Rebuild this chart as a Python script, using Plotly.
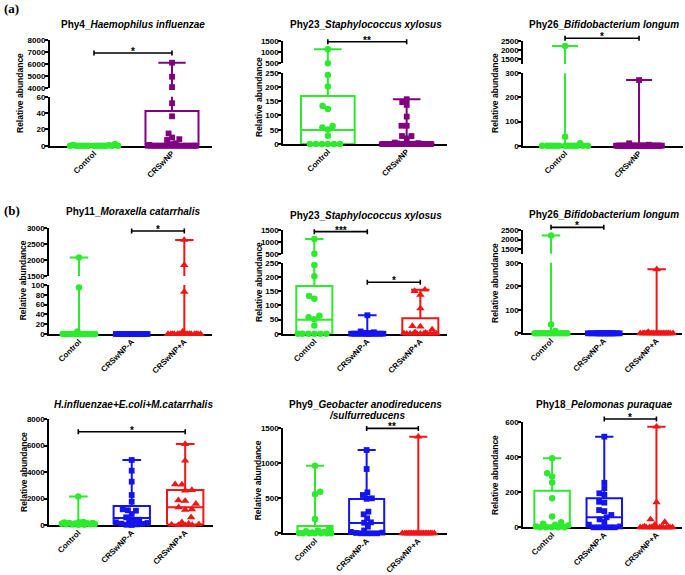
import numpy as np
import plotly.graph_objects as go

W, H = 685, 575
FONT = "Liberation Sans, Arial, sans-serif"
SERIF = "Liberation Serif, Times New Roman, serif"

# ---------------- data ----------------
GROUPS_2 = ["Control", "CRSwNP"]
GROUPS_3 = ["Control", "CRSwNP-A", "CRSwNP+A"]

# (a) Phy4_Haemophilus influenzae
phy4_control = [2, 1, 0.5, 0, 0, 0, 0, 0, 0, 0, 0, 0, 0, 0, 0, 0]
# seven CRSwNP points sit in the axis gap, drawn just above the lower segment (~65)
phy4_crswnp = [6120, 4960, 4100, 65, 65, 65, 65, 65, 65, 65, 52, 36, 15, 10, 8, 7, 3, 2, 1, 1,
               0, 0, 0, 0, 0, 0, 0, 0, 0, 0, 0, 0, 0, 0, 0, 0, 0, 0, 0, 0]
phy4_q1 = [0, 0]
phy4_median = [0, 0.5]
phy4_q3 = [0.5, 42.5]

# (a) Phy23_Staphylococcus xylosus
phy23_control = [1118, 500, 242, 202, 133, 123, 63, 58, 51, 29, 0, 0, 0, 0, 0, 0]
phy23_crswnp = [157, 147, 137, 96, 64, 64, 28, 28, 20, 5, 3, 2, 1,
                0, 0, 0, 0, 0, 0, 0, 0, 0, 0, 0, 0, 0, 0, 0, 0, 0, 0, 0, 0, 0, 0, 0, 0, 0, 0, 0]
phy23_q1 = [0, 0]
phy23_median = [49, 0]
phy23_q3 = [168, 3]

# (a) Phy26_Bifidobacterium longum
phy26_control = [2214, 37, 10, 0, 0, 0, 0, 0, 0, 0, 0, 0, 0, 0, 0, 0]
phy26_crswnp = [272, 10, 4, 0, 0, 0, 0, 0, 0, 0, 0, 0, 0, 0, 0, 0, 0, 0, 0, 0,
                0, 0, 0, 0, 0, 0, 0, 0, 0, 0, 0, 0, 0, 0, 0, 0, 0, 0, 0, 0]
phy26_q1 = [0, 0]
phy26_median = [0, 0]
phy26_q3 = [0, 0]

# (b) Phy11_Moraxella catarrhalis
phy11_control = [2084, 95, 5, 0, 0, 0, 0, 0, 0, 0, 0, 0, 0, 0, 0, 0]
phy11_crswnp_a = [0, 0, 0, 0, 0, 0, 0, 0, 0, 0, 0, 0, 0, 0, 0, 0, 0, 0, 0, 0]
phy11_crswnp_pa = [2634, 1844, 86, 5, 0, 0, 0, 0, 0, 0, 0, 0, 0, 0, 0, 0, 0, 0, 0, 0]
phy11_q1 = [0, 0, 0]
phy11_median = [0, 0, 0]
phy11_q3 = [0, 0, 0]

# (b) Phy23_Staphylococcus xylosus
phy23b_crswnp_a = [65, 8, 5, 3, 2, 1, 0, 0, 0, 0, 0, 0, 0, 0, 0, 0, 0, 0, 0, 0]
phy23b_crswnp_pa = [155, 150, 137, 89, 27, 25, 15, 5, 3, 1, 0, 0, 0, 0, 0, 0, 0, 0, 0, 0]
phy23b_q1 = [0, 0, 0]
phy23b_median = [49, 0, 1]
phy23b_q3 = [168, 5, 54]

# (b) Phy26_Bifidobacterium longum
phy26b_crswnp_a = [0, 0, 0, 0, 0, 0, 0, 0, 0, 0, 0, 0, 0, 0, 0, 0, 0, 0, 0, 0]
phy26b_crswnp_pa = [272, 5, 0, 0, 0, 0, 0, 0, 0, 0, 0, 0, 0, 0, 0, 0, 0, 0, 0, 0]
phy26b_q1 = [0, 0, 0]
phy26b_median = [0, 0, 0]
phy26b_q3 = [0, 0, 0]

# (b) H.influenzae+E.coli+M.catarrhalis
combo_control = [2150, 220, 200, 180, 160, 150, 130, 120, 100, 90, 80, 60, 50, 30, 20, 10]
combo_crswnp_a = [4906, 4100, 3270, 2264, 1760, 1185, 1110, 1080, 830, 580, 400, 300, 250, 200,
                  150, 100, 80, 50, 20, 0]
combo_crswnp_pa = [6113, 4853, 3070, 3050, 2640, 2600, 1860, 1820, 1600, 1336, 1185, 1150, 580,
                   200, 100, 50, 20, 0, 0, 0]
combo_q1 = [40, 40, 30]
combo_median = [110, 520, 1336]
combo_q3 = [170, 1434, 2640]

# (b) Phy9_Geobacter anodireducens/sulfurreducens
phy9_control = [960, 591, 553, 203, 60, 40, 30, 20, 10, 5, 0, 0, 0, 0, 0, 0]
phy9_crswnp_a = [1183, 913, 582, 544, 497, 490, 307, 270, 213, 156, 150, 95, 40, 20, 10, 5, 0, 0, 0, 0]
phy9_crswnp_pa = [1372, 0, 0, 0, 0, 0, 0, 0, 0, 0, 0, 0, 0, 0, 0, 0, 0, 0, 0, 0]
phy9_q1 = [0, 5, 0]
phy9_median = [30, 147, 0]
phy9_q3 = [104, 487, 0]

# (b) Phy18_Pelomonas puraquae
phy18_control = [392, 307, 288, 254, 165, 61, 28, 20, 15, 10, 5, 0, 0, 0, 0, 0]
phy18_crswnp_a = [515, 253, 222, 193, 184, 145, 140, 98, 92, 70, 57, 45, 30, 15, 5, 0, 0, 0, 0, 0]
phy18_crswnp_pa = [572, 142, 45, 30, 15, 5, 0, 0, 0, 0, 0, 0, 0, 0, 0, 0, 0, 0, 0, 0]
phy18_q1 = [0, 0, 0]
phy18_median = [10, 57, 0]
phy18_q3 = [208, 165, 0]

# ---------------- styling ----------------
COLORS = {"Control": "#2EEA2E", "CRSwNP": "#800080", "CRSwNP-A": "#1414EE", "CRSwNP+A": "#F01616"}
SYMBOLS = {"Control": "circle", "CRSwNP": "square", "CRSwNP-A": "square", "CRSwNP+A": "triangle-up"}
MSIZE = {"circle": 6.5, "square": 5.8, "triangle-up": 7.5}
BOX_HALF = 0.34
CAP_HALF = 0.175
SWARM_HALF = 0.31

# panel geometry (pixel layout): segments listed lower first: (top_px, bottom_px, lo, hi, ticks)
panels = [
    dict(title=["Phy4_<i>Haemophilus influenzae</i>"], title_xy=([59.3], [24]), ylab=(20, 93),
         groups=GROUPS_2, data=[phy4_control, phy4_crswnp], q=(phy4_q1, phy4_median, phy4_q3),
         xpx=(50, 212), xr=(-0.564, 1.513),
         segs=[(96.7, 145.7, 0, 60, [0, 20, 40, 60]),
               (40, 88.3, 4000, 8000, [4000, 5000, 6000, 7000, 8000])],
         brackets=[(0, 1, 6920, "*")]),
    dict(title=["Phy23_<i>Staphylococcus xylosus</i>"], title_xy=([288.3], [24.3]), ylab=(258.3, 96.7),
         groups=GROUPS_2, data=[phy23_control, phy23_crswnp], q=(phy23_q1, phy23_median, phy23_q3),
         xpx=(283.3, 447), xr=(-0.565, 1.512),
         segs=[(72.7, 144, 0, 250, [0, 50, 100, 150, 200, 250]),
               (40.7, 63.3, 500, 1500, [500, 1000, 1500])],
         brackets=[(0, 1, 1455, "**")]),
    dict(title=["Phy26_<i>Bifidobacterium longum</i>"], title_xy=([526.7], [24]), ylab=(495, 93),
         groups=GROUPS_2, data=[phy26_control, phy26_crswnp], q=(phy26_q1, phy26_median, phy26_q3),
         xpx=(523.3, 682.7), xr=(-0.564, 1.59),
         segs=[(73.3, 145.7, 0, 300, [0, 100, 200, 300]),
               (40.7, 64, 1250, 2500, [1500, 2000, 2500])],
         brackets=[(0, 1, 2630, "*")]),
    dict(title=["Phy11_<i>Moraxella catarrhalis</i>"], title_xy=([64], [211.7]), ylab=(23.3, 280),
         groups=GROUPS_3, data=[phy11_control, phy11_crswnp_a, phy11_crswnp_pa],
         q=(phy11_q1, phy11_median, phy11_q3),
         xpx=(49.3, 211.7), xr=(-0.564, 2.52),
         segs=[(285, 334, 0, 100, [0, 20, 40, 60, 80, 100]),
               (228.3, 276, 1500, 3000, [1500, 2000, 2500, 3000])],
         brackets=[(1, 2, 2915, "*")]),
    dict(title=["Phy23_<i>Staphylococcus xylosus</i>"], title_xy=([288.3], [215]), ylab=(258.3, 281.7),
         groups=GROUPS_3, data=[phy23_control, phy23b_crswnp_a, phy23b_crswnp_pa],
         q=(phy23b_q1, phy23b_median, phy23b_q3),
         xpx=(283.3, 446.7), xr=(-0.585, 2.498),
         segs=[(262.7, 333.7, 0, 250, [0, 50, 100, 150, 200, 250]),
               (230, 253.7, 500, 1500, [500, 1000, 1500])],
         brackets=[(0, 1, 1430, "***"), (1, 2, 181, "*")]),
    dict(title=["Phy26_<i>Bifidobacterium longum</i>"], title_xy=([526.7], [214]), ylab=(495, 283),
         groups=GROUPS_3, data=[phy26_control, phy26b_crswnp_a, phy26b_crswnp_pa],
         q=(phy26b_q1, phy26b_median, phy26b_q3),
         xpx=(523.3, 682), xr=(-0.524, 2.48),
         segs=[(262.7, 333.3, 0, 300, [0, 100, 200, 300]),
               (230, 253.75, 1250, 2500, [1500, 2000, 2500])],
         brackets=[(0, 1, 2640, "*")]),
    dict(title=["<i>H.influenzae+E.coli+M.catarrhalis</i>"], title_xy=([51.7], [404.3]), ylab=(23.3, 471.7),
         groups=GROUPS_3, data=[combo_control, combo_crswnp_a, combo_crswnp_pa],
         q=(combo_q1, combo_median, combo_q3),
         xpx=(49.3, 213.3), xr=(-0.543, 2.526),
         segs=[(419, 525, 0, 8000, [0, 2000, 4000, 6000, 8000])],
         brackets=[(0, 2, 7040, "*")]),
    dict(title=["Phy9_<i>Geobacter anodireducens</i>", "<i>/sulfurreducens</i>"],
         title_xy=([286.7, 326.7], [404, 415.7]), ylab=(258.3, 480),
         groups=GROUPS_3, data=[phy9_control, phy9_crswnp_a, phy9_crswnp_pa],
         q=(phy9_q1, phy9_median, phy9_q3),
         xpx=(283.3, 446.7), xr=(-0.614, 2.55),
         segs=[(427.7, 533.3, 0, 1500, [0, 500, 1000, 1500])],
         brackets=[(1, 2, 1490, "**")]),
    dict(title=["Phy18_<i>Pelomonas puraquae</i>"], title_xy=([534.3], [404]), ylab=(495, 475),
         groups=GROUPS_3, data=[phy18_control, phy18_crswnp_a, phy18_crswnp_pa],
         q=(phy18_q1, phy18_median, phy18_q3),
         xpx=(523.3, 682), xr=(-0.552, 2.49),
         segs=[(421.7, 527.3, 0, 600, [0, 200, 400, 600])],
         brackets=[(1, 2, 615, "*")]),
]


def seg_index(segs, v):
    if len(segs) > 1 and v >= segs[1][2]:
        return 1
    return 0


def val_px(seg, v):
    top, bot, lo, hi, _ = seg
    return bot - (v - lo) / (hi - lo) * (bot - top)


def swarm(pys, d, maxhalf):
    """Bounded beeswarm in pixel space: spread points of similar height sideways
    within +-maxhalf, overlapping only when the column is full."""
    n = len(pys)
    cands = np.arange(-maxhalf, maxhalf + 1e-9, 0.25)
    cands = cands[np.argsort(np.abs(cands), kind="stable")]
    offs = np.zeros(n)
    placed = []
    for i in sorted(range(n), key=lambda k: -pys[k]):
        if placed:
            po = offs[placed]
            py = np.array([pys[j] for j in placed])
            dist = np.sqrt((cands[:, None] - po[None, :]) ** 2 + (pys[i] - py[None, :]) ** 2)
            mind = dist.min(axis=1)
            ok = np.where(mind >= d)[0]
            if len(ok):
                c = cands[ok[0]]
            else:
                c = cands[int(np.argmax(mind))]
        else:
            c = 0.0
        offs[i] = c
        placed.append(i)
    return offs


fig = go.Figure()
layout = {}
shapes = []
annotations = []
ax = 0
tickfont = dict(family=FONT, size=8, color="black", weight="bold")

for p in panels:
    x0, x1 = p["xpx"]
    xr0, xr1 = p["xr"]
    pxu = (x1 - x0) / (xr1 - xr0)
    segs = p["segs"]
    groups = p["groups"]
    axes = []
    for si, seg in enumerate(segs):
        ax += 1
        sfx = "" if ax == 1 else str(ax)
        top, bot, lo, hi, ticks = seg
        layout["xaxis" + sfx] = dict(
            domain=[x0 / W, x1 / W], range=[xr0, xr1], anchor="y" + sfx,
            visible=(si == 0), showline=True, linecolor="black", linewidth=2,
            showgrid=False, zeroline=False, ticks="", tickmode="array",
            tickvals=list(range(len(groups))), ticktext=groups, tickangle=-45,
            ticklabelstandoff=-2, layer="below traces",
            tickfont=dict(family=FONT, size=8, color="black", weight="bold"), fixedrange=True)
        layout["yaxis" + sfx] = dict(
            domain=[1 - bot / H, 1 - top / H], range=[lo, hi], anchor="x" + sfx,
            showline=True, linecolor="black", linewidth=2, ticks="outside", ticklen=3,
            tickwidth=2, tickcolor="black", tickmode="array", tickvals=ticks,
            ticktext=[str(t) for t in ticks], tickfont=tickfont, layer="below traces",
            ticklabelstandoff=-2,
            showgrid=False, zeroline=False, fixedrange=True)
        axes.append(("x" + sfx, "y" + sfx))

    q1s, meds, q3s = p["q"]
    for gi, (g, vals) in enumerate(zip(groups, p["data"])):
        col = COLORS[g]
        sym = SYMBOLS[g]
        vmax, vmin = max(vals), min(vals)
        q1, med, q3 = q1s[gi], meds[gi], q3s[gi]
        c = gi
        bw, cw = BOX_HALF, CAP_HALF
        bx = [c - bw, c + bw, c + bw, c - bw, c - bw, None, c - bw, c + bw, None,
              c, c, None, c - cw, c + cw, None, c, c, None, c - cw, c + cw]
        by = [q1, q1, q3, q3, q1, None, med, med, None, q3, vmax, None, vmax, vmax, None,
              q1, vmin, None, vmin, vmin]
        for xa, ya in axes:
            fig.add_trace(go.Scatter(x=bx, y=by, mode="lines", xaxis=xa, yaxis=ya,
                                     line=dict(color=col, width=2), hoverinfo="skip",
                                     showlegend=False))
        # point positions (beeswarm in pixel space)
        sidx = [seg_index(segs, v) for v in vals]
        pys = [val_px(segs[s], v) for s, v in zip(sidx, vals)]
        offs = swarm(pys, MSIZE[sym] * 0.9, SWARM_HALF * pxu)
        for si, (xa, ya) in enumerate(axes):
            xs = [c + o / pxu for o, s in zip(offs, sidx) if s == si]
            ys = [v for v, s in zip(vals, sidx) if s == si]
            if not xs:
                continue
            fig.add_trace(go.Scatter(x=xs, y=ys, mode="markers", xaxis=xa, yaxis=ya,
                                     cliponaxis=False,
                                     marker=dict(symbol=sym, size=MSIZE[sym], color=col,
                                                 line=dict(width=0)),
                                     name=g, showlegend=False))

    # significance brackets
    for (ga, gb, yv, lab) in p["brackets"]:
        seg = segs[seg_index(segs, yv)]
        yb = val_px(seg, yv)
        xa_px = x0 + (ga - xr0) * pxu
        xb_px = x0 + (gb - xr0) * pxu
        ca = 2.5
        path = (f"M {xa_px / W},{1 - (yb - ca) / H} L {xa_px / W},{1 - (yb + ca) / H} "
                f"M {xa_px / W},{1 - yb / H} L {xb_px / W},{1 - yb / H} "
                f"M {xb_px / W},{1 - (yb - ca) / H} L {xb_px / W},{1 - (yb + ca) / H}")
        shapes.append(dict(type="path", path=path, xref="paper", yref="paper",
                           line=dict(color="black", width=1.6)))
        annotations.append(dict(x=(xa_px + xb_px) / 2 / W, y=1 - (yb - 1.5) / H,
                                xref="paper", yref="paper", text=lab, showarrow=False,
                                xanchor="center", yanchor="middle",
                                font=dict(family=FONT, size=10, color="black", weight="bold")))

    # titles (left-anchored) and y labels
    txs, tys = p["title_xy"]
    for t, tx, ty in zip(p["title"], txs, tys):
        annotations.append(dict(x=tx / W, y=1 - ty / H, xref="paper", yref="paper", text=t,
                                showarrow=False, xanchor="left", yanchor="middle",
                                font=dict(family=FONT, size=10, color="black", weight="bold")))
    lx, ly = p["ylab"]
    annotations.append(dict(x=lx / W, y=1 - ly / H, xref="paper", yref="paper",
                            text="Relative abundance", textangle=-90, showarrow=False,
                            xanchor="center", yanchor="middle",
                            font=dict(family=FONT, size=8.5, color="black", weight="bold")))

for lab, yy in (("(a)", 8.5), ("(b)", 210)):
    annotations.append(dict(x=2 / W, y=1 - yy / H, xref="paper", yref="paper", text=lab,
                            showarrow=False, xanchor="left", yanchor="middle",
                            font=dict(family=SERIF, size=13, color="black", weight="bold")))

fig.update_layout(
    width=W, height=H, autosize=False, template="none",
    margin=dict(l=0, r=0, t=0, b=0, pad=0),
    paper_bgcolor="white", plot_bgcolor="rgba(0,0,0,0)",
    showlegend=False, shapes=shapes, annotations=annotations, **layout)

fig.write_html("out.html", config={"displayModeBar": False},
               post_script="document.body.style.margin='0';document.body.style.overflow='hidden';")
